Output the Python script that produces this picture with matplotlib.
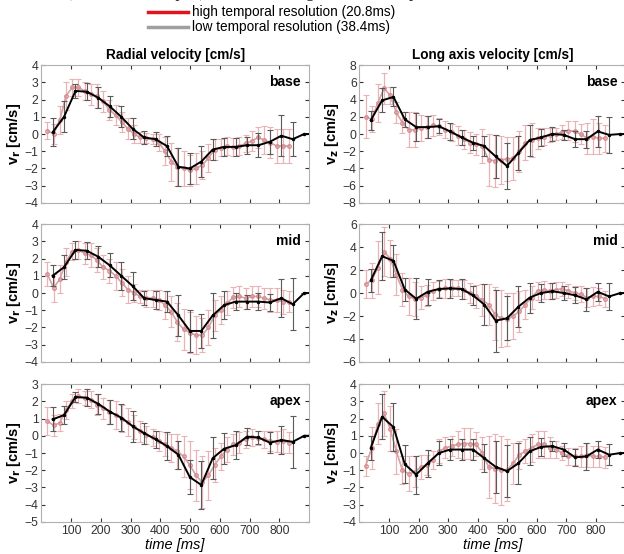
import numpy as np
import matplotlib.pyplot as plt

plt.rcParams['font.family'] = ['Liberation Sans', 'DejaVu Sans']

# time points
t_high = [20.8 * k for k in range(1, 41)]
t_low = [38.4 * k for k in range(1, 25)]

# radial velocity, base
rb_hi = [0.2, 0.0, 0.8, 2.2, 2.7, 2.7, 2.5, 2.3, 2.2, 1.9, 1.4, 1.1, 0.7, 0.3, 0.0, -0.2, -0.25, -0.3, -0.5, -1.0,
         -1.6, -1.9, -2.0, -2.1, -2.0, -1.8, -1.4, -0.9, -0.8, -0.7, -0.75, -0.7, -0.55, -0.4, -0.2, -0.35, -0.5, -0.7, -0.7, -0.7]
rb_hi_err = [0.5, 0.6, 0.8, 0.8, 0.5, 0.5, 0.5, 0.6, 0.7, 0.6, 0.6, 0.6, 0.6, 0.6, 0.5, 0.3, 0.3, 0.3, 0.5, 0.8,
             1.1, 1.1, 1.0, 0.9, 0.9, 0.8, 0.8, 0.6, 0.5, 0.5, 0.5, 0.5, 0.5, 0.6, 0.6, 0.8, 0.9, 1.0, 1.0, 1.0]
rb_lo = [0.1, 1.0, 2.5, 2.45, 2.1, 1.6, 1.0, 0.3, -0.2, -0.3, -0.7, -1.9, -2.0, -1.6, -0.9, -0.75, -0.75, -0.65, -0.65, -0.45,
         -0.1, -0.3, 0.0, 0.0]
rb_lo_err = [0.8, 0.9, 0.4, 0.5, 0.6, 0.6, 0.6, 0.6, 0.4, 0.4, 0.6, 1.1, 0.9, 0.9, 0.6, 0.5, 0.5, 0.5, 0.7, 0.7,
             1.2, 1.0, 0.0, 0.0]

# radial velocity, mid
rm_hi = [1.1, 0.3, 0.8, 1.8, 2.4, 2.5, 2.3, 2.2, 1.9, 1.5, 1.3, 1.0, 0.6, 0.2, 0.0, -0.2, -0.3, -0.3, -0.4, -0.7,
         -1.1, -1.7, -2.1, -2.3, -2.45, -2.45, -2.0, -1.3, -1.0, -0.6, -0.25, -0.2, -0.3, -0.2, -0.2, -0.3, -0.4, -0.4, -0.5, -0.5]
rm_hi_err = [0.7, 0.8, 0.8, 0.8, 0.5, 0.5, 0.6, 0.7, 0.7, 0.7, 0.7, 0.8, 0.8, 0.8, 0.5, 0.4, 0.5, 0.5, 0.6, 0.8,
             0.9, 1.1, 1.2, 1.2, 1.1, 1.0, 1.0, 0.9, 0.8, 0.7, 0.6, 0.6, 0.6, 0.6, 0.6, 0.6, 0.7, 0.7, 0.7, 0.6]
rm_lo = [1.0, 1.5, 2.5, 2.45, 2.1, 1.6, 1.0, 0.4, -0.3, -0.4, -0.5, -1.3, -2.2, -2.2, -1.3, -0.7, -0.5, -0.5, -0.5, -0.55,
         -0.3, -0.65, 0.0, 0.0]
rm_lo_err = [0.6, 0.7, 0.5, 0.5, 0.6, 0.7, 0.8, 0.8, 0.4, 0.5, 0.6, 1.2, 1.2, 1.0, 1.3, 0.8, 0.5, 0.4, 0.5, 0.5,
             1.1, 1.5, 0.0, 0.0]

# radial velocity, apex
ra_hi = [0.85, 0.6, 0.75, 1.5, 2.0, 2.3, 2.2, 2.1, 1.8, 1.6, 1.4, 1.2, 1.0, 0.8, 0.5, 0.25, 0.05, -0.1, -0.3, -0.5,
         -0.7, -0.9, -1.2, -1.7, -2.3, -2.7, -2.3, -1.7, -1.2, -0.8, -0.5, -0.4, -0.2, -0.1, -0.15, -0.2, -0.3, -0.35, -0.3, -0.4]
ra_hi_err = [0.8, 0.6, 0.5, 0.5, 0.4, 0.4, 0.4, 0.5, 0.6, 0.6, 0.7, 0.8, 0.8, 0.8, 0.7, 0.6, 0.5, 0.5, 0.6, 0.7,
             0.8, 1.0, 1.2, 1.4, 1.5, 1.5, 1.4, 1.0, 0.8, 0.7, 0.6, 0.6, 0.5, 0.5, 0.4, 0.5, 0.6, 0.6, 0.7, 0.6]
ra_lo = [0.95, 1.2, 2.25, 2.2, 1.85, 1.4, 1.05, 0.55, 0.15, -0.2, -0.6, -1.1, -2.4, -2.85, -1.3, -0.75, -0.55, -0.05, -0.1, -0.4,
         -0.25, -0.35, 0.0, 0.0]
ra_lo_err = [0.7, 0.5, 0.3, 0.5, 0.6, 0.7, 0.8, 0.9, 0.6, 0.5, 0.8, 0.8, 1.0, 1.4, 1.2, 0.9, 0.8, 0.5, 0.4, 0.6,
             0.8, 1.5, 0.0, 0.0]

# long axis velocity, base
lb_hi = [2.0, 1.7, 3.6, 5.3, 4.5, 2.5, 1.3, 0.5, 0.5, 0.7, 0.8, 1.0, 0.9, 0.5, 0.2, -0.2, -0.6, -1.0, -1.2, -1.4,
         -3.0, -3.1, -3.0, -2.9, -2.8, -2.0, -1.0, -0.7, -0.5, -0.3, -0.1, 0.0, 0.2, 0.4, 0.3, 0.0, -0.5, -0.3, -0.5, -0.5]
lb_hi_err = [2.5, 1.5, 2.2, 1.8, 1.0, 1.2, 1.2, 2.0, 2.0, 1.5, 1.3, 1.2, 1.0, 1.0, 1.0, 1.1, 1.1, 1.2, 1.2, 2.0,
             3.0, 3.0, 2.8, 2.5, 2.5, 2.4, 2.0, 2.0, 1.2, 1.0, 0.8, 0.7, 0.8, 1.1, 1.2, 1.2, 1.8, 2.0, 1.8, 1.6]
lb_lo = [1.6, 3.9, 4.3, 1.7, 0.8, 0.8, 0.9, 0.3, -0.4, -1.0, -1.4, -2.6, -3.7, -2.2, -0.7, -0.4, 0.0, -0.1, -0.6, -0.6,
         0.3, -0.1, 0.0, 0.0]
lb_lo_err = [1.1, 1.4, 1.1, 0.9, 1.6, 1.3, 0.8, 1.0, 0.9, 0.8, 1.2, 2.5, 2.7, 2.0, 1.8, 1.0, 0.8, 0.6, 0.9, 1.0,
             1.8, 2.1, 0.0, 0.0]

# long axis velocity, mid
lm_hi = [0.8, 1.1, 2.2, 3.6, 3.0, 1.6, 0.3, -0.3, -0.5, -0.4, -0.2, 0.2, 0.35, 0.4, 0.45, 0.4, 0.3, 0.0, -0.3, -0.6,
         -1.0, -1.8, -2.2, -2.3, -2.0, -1.6, -1.0, -0.4, 0.2, 0.25, 0.2, 0.3, 0.35, 0.2, 0.0, -0.1, -0.4, -0.3, -0.3, -0.5]
lm_hi_err = [1.2, 1.5, 2.3, 2.1, 1.6, 1.8, 1.4, 1.6, 1.5, 1.0, 0.9, 0.8, 0.7, 0.8, 0.7, 0.7, 0.8, 0.9, 1.0, 1.4,
             1.8, 2.3, 2.5, 2.3, 2.0, 1.8, 1.3, 1.0, 0.8, 0.8, 0.7, 0.7, 0.6, 0.6, 0.6, 0.7, 0.8, 0.8, 0.7, 0.7]
lm_lo = [1.1, 3.2, 2.8, 0.3, -0.5, 0.1, 0.35, 0.4, 0.35, -0.2, -1.0, -2.4, -2.2, -1.2, -0.4, 0.0, 0.15, 0.0, -0.2, -0.55,
         0.1, -0.3, 0.0, 0.0]
lm_lo_err = [1.0, 2.1, 1.4, 1.0, 1.8, 1.1, 0.8, 0.8, 0.9, 0.8, 1.8, 2.7, 1.9, 1.8, 1.3, 0.8, 0.7, 0.6, 0.7, 1.0,
             0.8, 1.2, 0.0, 0.0]

# long axis velocity, apex
la_hi = [-0.75, 0.3, 1.7, 2.3, 1.4, 0.1, -1.0, -1.2, -1.1, -0.8, -0.7, -0.4, 0.1, 0.3, 0.4, 0.5, 0.55, 0.55, 0.5, 0.0,
         -0.8, -0.9, -1.0, -1.0, -0.6, -0.1, 0.1, 0.3, 0.5, 0.5, 0.3, 0.2, 0.0, -0.2, -0.2, -0.2, -0.1, -0.2, -0.2, -0.25]
la_hi_err = [0.6, 1.2, 1.2, 1.3, 1.3, 1.3, 0.8, 1.0, 0.9, 0.7, 0.6, 0.5, 0.7, 0.6, 0.6, 0.8, 0.9, 0.9, 0.7, 0.9,
             1.8, 2.0, 2.0, 1.8, 1.2, 0.8, 0.7, 0.8, 0.8, 0.8, 0.6, 0.5, 0.4, 0.5, 0.5, 0.6, 0.7, 0.6, 0.6, 0.6]
la_lo = [0.3, 2.1, 1.5, -0.65, -1.25, -0.6, 0.0, 0.2, 0.2, 0.2, -0.3, -0.8, -1.05, -0.6, 0.1, 0.35, 0.4, 0.2, -0.25, -0.2,
         0.2, -0.1, 0.0, 0.0]
la_lo_err = [0.7, 1.3, 1.4, 1.1, 1.1, 0.8, 0.7, 0.6, 0.6, 0.6, 0.8, 1.5, 1.5, 1.2, 0.8, 0.5, 0.3, 0.4, 0.5, 0.8,
             0.5, 0.6, 0.0, 0.0]

regions = ['base', 'mid', 'apex']
radial = [(rb_hi, rb_hi_err, rb_lo, rb_lo_err), (rm_hi, rm_hi_err, rm_lo, rm_lo_err), (ra_hi, ra_hi_err, ra_lo, ra_lo_err)]
longax = [(lb_hi, lb_hi_err, lb_lo, lb_lo_err), (lm_hi, lm_hi_err, lm_lo, lm_lo_err), (la_hi, la_hi_err, la_lo, la_lo_err)]
radial_lim = [(-4, 4), (-4, 4), (-5, 3)]
long_lim = [(-8, 8), (-6, 6), (-4, 4)]
long_ticks = [np.arange(-8, 9, 2), np.arange(-6, 7, 2), np.arange(-4, 5, 1)]

fig = plt.figure(figsize=(6.24, 5.54), dpi=100)

# axes positions (left, bottom, width, height)
rows_b = [0.6336, 0.3466, 0.0578]
h = 0.249
left_x, left_w = 0.066, 0.4295
right_x, right_w = 0.576, 0.4263


def draw(ax, d, ylim, yticks, label, ylab, bottom):
    hi, hi_err, lo, lo_err = d
    ax.errorbar(t_high, hi, yerr=hi_err, color='#d9a3a6', ecolor='#ebb2b4', elinewidth=0.9, capsize=2.5,
                capthick=0.8, lw=1.0, marker='o', ms=2.5, mfc='none', mec='#d98c90', zorder=2)
    ax.plot(t_high, hi, color='#b9a9aa', lw=0.9, zorder=2)
    ax.errorbar(t_low, lo, yerr=lo_err, color='black', ecolor='#5a5a5a', elinewidth=0.8, capsize=2.5,
                capthick=0.8, lw=1.4, marker='.', ms=3, zorder=3)
    ax.set_xlim(0, 900)
    ax.set_ylim(*ylim)
    ax.set_yticks(yticks)
    ax.set_xticks(range(100, 900, 100))
    ax.tick_params(direction='in', top=True, right=True, length=3, labelsize=8.8,
                   colors='#333333', pad=2)
    for s in ax.spines.values():
        s.set_color('#b0b0b0')
    ax.set_ylabel(ylab, fontsize=10.5, fontweight='bold', labelpad=1)
    ax.text(0.97, 0.93, label, transform=ax.transAxes, ha='right', va='top',
            fontsize=10, fontweight='bold')
    if bottom:
        ax.set_xlabel('time [ms]', fontsize=10.5, style='italic', labelpad=1)
    else:
        ax.set_xticklabels([])


for i in range(3):
    axl = fig.add_axes([left_x, rows_b[i], left_w, h])
    draw(axl, radial[i], radial_lim[i], np.arange(radial_lim[i][0], radial_lim[i][1] + 1, 1), regions[i],
         r'v$_\mathbf{r}$ [cm/s]', i == 2)
    axr = fig.add_axes([right_x, rows_b[i], right_w, h])
    draw(axr, longax[i], long_lim[i], long_ticks[i], regions[i], r'v$_\mathbf{z}$ [cm/s]', i == 2)
    if i == 0:
        axl.set_title('Radial velocity [cm/s]', fontsize=9.8, fontweight='bold', pad=4)
        axr.set_title('Long axis velocity [cm/s]', fontsize=9.8, fontweight='bold', pad=4)

# legend at the top
fig.lines.append(plt.Line2D([0.237, 0.301], [0.9775, 0.9775], color='#e0141c', lw=2.5, transform=fig.transFigure))
fig.lines.append(plt.Line2D([0.237, 0.301], [0.9505, 0.9505], color='#a0a0a0', lw=2.5, transform=fig.transFigure))
fig.text(0.307, 0.9775, 'high temporal resolution (20.8ms)', fontsize=9.8, va='center')
fig.text(0.307, 0.9505, 'low temporal resolution (38.4ms)', fontsize=9.8, va='center')

# cropped caption line above the figure
fig.text(0.5, 1.013, 'locations (base, mid and apex) between the high and low temporal resolution data. Shows the',
         fontsize=12, family='Liberation Serif', ha='center', va='center', color='#222222')

fig.savefig('out.png', dpi=100)
